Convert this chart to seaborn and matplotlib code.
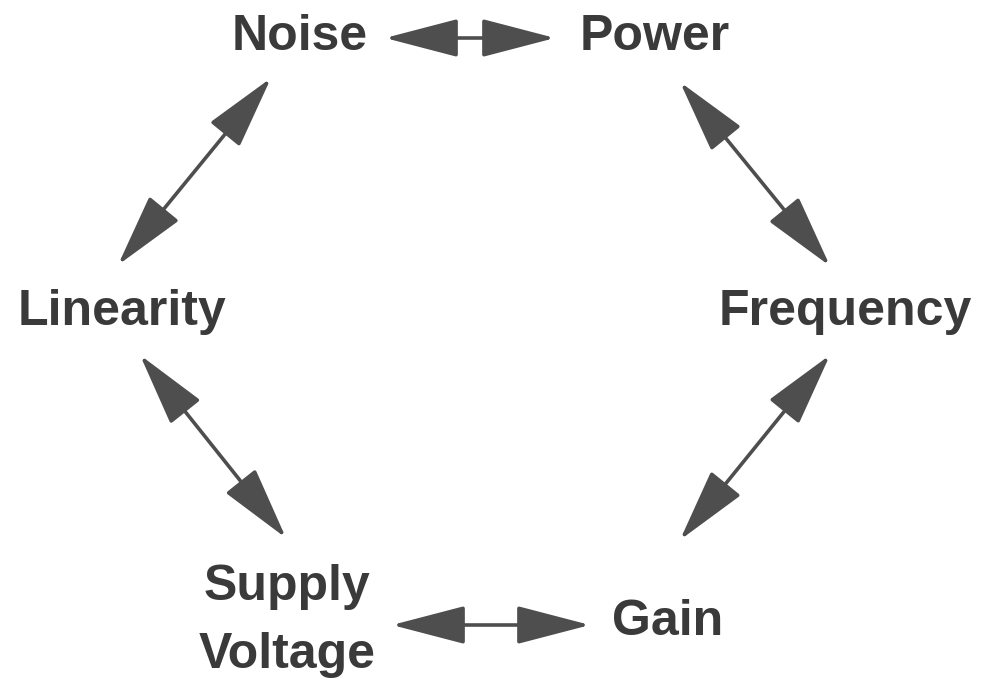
import matplotlib
matplotlib.use("Agg")
import matplotlib.pyplot as plt
import seaborn as sns
from matplotlib.patches import FancyArrowPatch

# nodes of the trade-off hexagon and the links between them
nodes = ["Noise", "Power", "Frequency", "Gain", "Supply\nVoltage", "Linearity"]
edges = [
    ("Noise", "Power"),
    ("Power", "Frequency"),
    ("Frequency", "Gain"),
    ("Gain", "Supply\nVoltage"),
    ("Supply\nVoltage", "Linearity"),
    ("Linearity", "Noise"),
]

# layout (pixel coordinates of label centres)
label_pos = {
    "Noise": (300, 37),
    "Power": (655, 37),
    "Frequency": (845, 312),
    "Gain": (668, 622),
    "Supply\nVoltage": (287, 621),
    "Linearity": (122, 312),
}
# arrow end points for each edge
arrow_pts = [
    ((385, 38), (555, 38)),
    ((680, 82), (830, 266)),
    ((830, 355), (680, 540)),
    ((590, 625), (392, 625)),
    ((286, 538), (140, 355)),
    ((118, 265), (271, 78)),
]

sns.set_theme(style="white")
plt.rcParams["font.family"] = ["Liberation Sans", "DejaVu Sans"]

fig = plt.figure(figsize=(9.84, 6.83), dpi=100)
ax = fig.add_axes([0, 0, 1, 1])
ax.set_xlim(0, 984)
ax.set_ylim(683, 0)
ax.axis("off")

text_color = "#3a3a3a"
arrow_color = "#4e4e4e"

for name in nodes:
    x, y = label_pos[name]
    ax.text(x, y, name, ha="center", va="center", fontsize=36,
            fontweight="bold", color=text_color, linespacing=1.6)

for (a, b), (p0, p1) in zip(edges, arrow_pts):
    arr = FancyArrowPatch(p0, p1,
                          arrowstyle="<|-|>,head_length=46,head_width=12",
                          mutation_scale=1, lw=2.6, color=arrow_color,
                          shrinkA=0, shrinkB=0)
    ax.add_patch(arr)

fig.savefig("out.png", dpi=100, facecolor="white")
